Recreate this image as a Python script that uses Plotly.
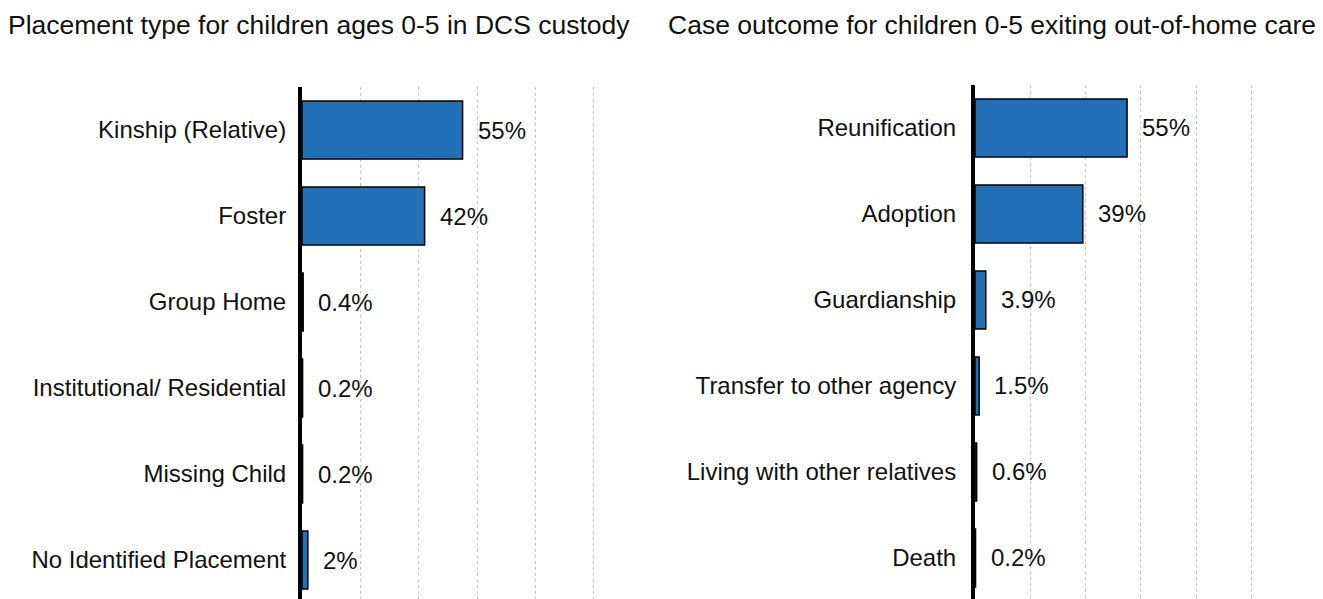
import plotly.graph_objects as go

W, H = 1323, 599

# Data
left_title = "Placement type for children ages 0-5 in DCS custody"
left_categories = ["Kinship (Relative)", "Foster", "Group Home",
                   "Institutional/ Residential", "Missing Child", "No Identified Placement"]
left_values = [55, 42, 0.4, 0.2, 0.2, 2]

right_title = "Case outcome for children 0-5 exiting out-of-home care"
right_categories = ["Reunification", "Adoption", "Guardianship",
                    "Transfer to other agency", "Living with other relatives", "Death"]
right_values = [55, 39, 3.9, 1.5, 0.6, 0.2]

grid_ticks = [20, 40, 60, 80, 100]

BAR_COLOR = "#2270B8"
FONT = "Arial, Liberation Sans, sans-serif"
TXT = "#111111"


def fmt(v):
    return f"{v:g}%"


fig = go.Figure()

fig.add_trace(go.Bar(
    x=left_values, y=left_categories, orientation="h",
    marker=dict(color=BAR_COLOR, line=dict(color="black", width=1.5)),
    xaxis="x", yaxis="y", showlegend=False, hoverinfo="skip",
))
fig.add_trace(go.Bar(
    x=right_values, y=right_categories, orientation="h",
    marker=dict(color=BAR_COLOR, line=dict(color="black", width=1.5)),
    xaxis="x2", yaxis="y2", showlegend=False, hoverinfo="skip",
))

annotations = []
for cats, vals, xr, yr in [(left_categories, left_values, "x", "y"),
                           (right_categories, right_values, "x2", "y2")]:
    for c, v in zip(cats, vals):
        annotations.append(dict(
            x=v, y=c, xref=xr, yref=yr, text=fmt(v), showarrow=False,
            xanchor="left", yanchor="middle", xshift=13,
            font=dict(size=24, color=TXT, family=FONT),
        ))

annotations.append(dict(
    x=6 / W, y=1 - 25 / H, xref="paper", yref="paper", text=left_title,
    showarrow=False, xanchor="left", yanchor="middle",
    font=dict(size=26.5, color=TXT, family=FONT),
))
annotations.append(dict(
    x=666 / W, y=1 - 25 / H, xref="paper", yref="paper", text=right_title,
    showarrow=False, xanchor="left", yanchor="middle",
    font=dict(size=26.5, color=TXT, family=FONT),
))

xcommon = dict(
    range=[0, 102], showticklabels=False, showgrid=True, gridcolor="#c8c8c8",
    griddash="dot", gridwidth=1, tickvals=grid_ticks, zeroline=False,
    showline=False, ticks="", fixedrange=True,
)
ycommon = dict(
    showline=True, linecolor="black", linewidth=4, ticks="", showgrid=False,
    tickfont=dict(size=24, color=TXT, family=FONT),
    type="category", fixedrange=True,
)

fig.update_layout(
    width=W, height=H,
    margin=dict(l=0, r=0, t=0, b=0),
    paper_bgcolor="white", plot_bgcolor="white",
    bargap=0.326,
    font=dict(family=FONT, size=24, color=TXT),
    xaxis=dict(domain=[302 / W, 599.8 / W], anchor="y", **xcommon),
    xaxis2=dict(domain=[975 / W, 1257 / W], anchor="y2", **xcommon),
    yaxis=dict(domain=[0, 1 - 87 / H], anchor="x",
               categoryorder="array", categoryarray=left_categories,
               range=[5.453, -0.5], ticklabelstandoff=7, **ycommon),
    yaxis2=dict(domain=[0, 1 - 85 / H], anchor="x2",
                categoryorder="array", categoryarray=right_categories,
                range=[5.477, -0.5], ticklabelstandoff=10, **ycommon),
    annotations=annotations,
)

fig.write_html("out.html", config={"displayModeBar": False},
               post_script="document.body.style.margin='0px';")
